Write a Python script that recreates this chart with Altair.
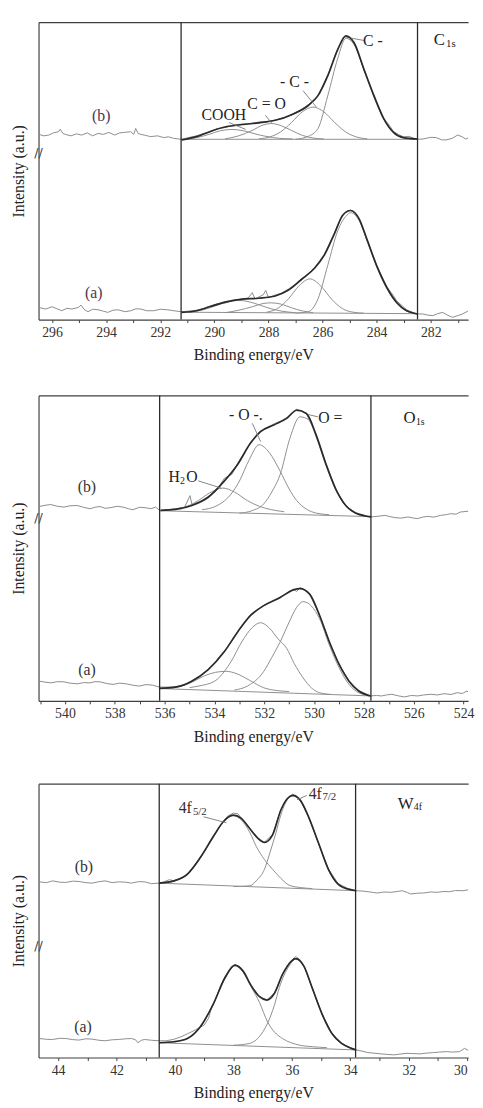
import altair as alt
import pandas as pd

FONT = "Liberation Serif"
PLOT_W = 436

# ---------------- C1s panel ----------------
C1S_XDOM = [280.62, 296.5]
C1S_YMAX = 302
C1S_REGION = [291.23, 282.49]
C1S_BREAK = [169]

C1S_B_RAW_E = [296.49, 296.3, 296.12, 295.95, 295.76, 295.7, 295.6, 295.51, 295.3, 295.1, 294.91, 294.7, 294.5, 294.3, 294.1, 293.9, 293.69, 293.5, 293.33, 293.09, 292.98, 292.91, 292.82, 292.72, 292.55, 292.36, 292.1, 291.87, 291.7, 291.51, 291.23,
               291.0, 290.66, 290.4, 290.18, 289.9, 289.57, 289.3, 288.96, 288.6, 288.36, 288.0, 287.75, 287.4, 287.14, 286.8, 286.53, 286.17, 285.81, 285.44, 285.2, 285.0, 284.83, 284.47, 284.1, 283.74, 283.5, 283.38, 283.2, 283.01, 282.8, 282.6, 282.49,
               282.29, 282.0, 281.8, 281.6, 281.44, 281.2, 281.01, 280.85, 280.71, 280.5]
C1S_B_RAW_I = [188, 186.5, 187.3, 189.5, 190.7, 193.3, 189, 188, 186.5, 188.5, 187.3, 189.5, 186.5, 189, 188, 190, 187.3, 189.5, 190, 190.7, 188, 194, 189, 188, 187, 185.7, 186.5, 184.7, 185.5, 184, 183,
               184.5, 186.5, 189, 190, 194, 195, 197.5, 198.5, 199, 200.5, 201, 202.5, 205, 208.5, 213, 218, 227, 248, 275, 287, 286, 281, 254.5, 226, 204.5, 196, 191, 188, 185.5, 186, 183.5, 183,
               183.3, 185, 184.7, 182.5, 182.3, 184, 187.3, 185.7, 183.3, 185.7]

C1S_B_ENV_E = [291.21, 290.66, 290.18, 289.57, 288.96, 288.36, 287.75, 287.14, 286.53, 286.17, 285.81, 285.44, 285.14, 284.83, 284.47, 284.1, 283.74, 283.38, 283.01, 282.49]
C1S_B_ENV_I = [182.3, 185.7, 190.7, 195.7, 198, 199.7, 202.3, 208, 217.3, 227.3, 247.3, 274, 288, 280.7, 254, 227.3, 204, 190, 184.7, 183.3]

C1S_B_C1_E = [287.0, 286.53, 286.17, 285.81, 285.44, 285.14, 284.83, 284.47, 284.1, 283.74, 283.38, 283.01, 282.5]
C1S_B_C1_I = [183, 186, 194, 227, 265, 285.5, 279, 253, 226, 203.5, 190, 184.5, 183]
C1S_B_C2_E = [288.35, 287.95, 287.55, 287.15, 286.75, 286.35, 285.95, 285.55, 285.15, 284.75, 284.35]
C1S_B_C2_I = [183.5, 185.4, 190.5, 200, 210.8, 215.7, 210.8, 200, 190.5, 185.4, 183.5]
C1S_B_C3_E = [289.6, 289.1, 288.6, 288.2, 287.9, 287.55, 287.15, 286.75, 286.35, 285.95]
C1S_B_C3_I = [183.5, 186.5, 192, 197.5, 199, 197, 192, 187, 184.3, 183.3]
C1S_B_C4_E = [291.0, 290.6, 290.2, 289.8, 289.35, 288.9, 288.5, 288.1, 287.6, 287.1]
C1S_B_C4_I = [183.3, 185, 188, 191.5, 193, 191.5, 188.5, 186, 184, 183.3]
C1S_B_BASE_E = [291.23, 282.49]
C1S_B_BASE_I = [183, 183]

C1S_A_RAW_E = [296.49, 296.24, 296.0, 295.82, 295.64, 295.45, 295.27, 295.03, 294.93, 294.8, 294.67, 294.5, 294.3, 294.1, 293.94, 293.75, 293.57, 293.3, 293.09, 292.9, 292.72, 292.5, 292.24, 292.0, 291.75, 291.5, 291.23,
               291.0, 290.66, 290.4, 290.18, 289.9, 289.57, 289.3, 288.96, 288.75, 288.6, 288.5, 288.36, 288.2, 288.1, 288.0, 287.75, 287.5, 287.26, 287.0, 286.78, 286.5, 286.29, 285.93, 285.56, 285.26, 285.1, 284.96, 284.8, 284.65, 284.35, 283.99, 283.62, 283.4, 283.26, 283.1, 282.89, 282.65, 282.49,
               282.29, 282.1, 281.92, 281.75, 281.56, 281.38, 281.2, 281.0, 280.83, 280.6]
C1S_A_RAW_I = [12.3, 10.7, 13, 11, 9, 11.5, 10.7, 12.3, 14.7, 10, 8, 10.5, 10, 8.5, 7.3, 9.5, 10, 8, 9, 11, 10.7, 9, 9, 10.5, 10, 9, 8,
               8.5, 9.5, 11, 13.5, 16, 17, 19.5, 21, 22, 27.3, 21, 23, 25, 29.7, 22, 25, 27, 31, 36, 41.5, 47, 53, 66.5, 88, 106.5, 110, 111, 108, 102, 81, 54.5, 33, 25, 19, 15, 10, 7, 5.7,
               5.7, 4.5, 4, 6, 7.3, 4.5, 2.3, 4, 5.7, 9]

C1S_A_ENV_E = [291.21, 290.66, 290.18, 289.57, 288.96, 288.36, 287.75, 287.26, 286.78, 286.29, 285.93, 285.56, 285.26, 284.96, 284.65, 284.35, 283.99, 283.62, 283.26, 282.89, 282.65, 282.49]
C1S_A_ENV_I = [7.3, 9, 13, 18, 20.7, 21.7, 24, 30, 40.7, 52.3, 65.7, 87.3, 105.7, 110.7, 102.3, 80.7, 54, 32.3, 17.3, 9, 6.7, 5.7]

C1S_A_C1_E = [287.0, 286.53, 286.17, 285.81, 285.44, 285.1, 284.96, 284.65, 284.35, 283.99, 283.62, 283.26, 282.89, 282.5]
C1S_A_C1_I = [6.5, 8, 21, 55, 90, 106, 108.5, 100.5, 79.5, 53, 31.5, 16.5, 8.5, 6]
C1S_A_C2_E = [288.07, 287.67, 287.27, 286.87, 286.47, 286.07, 285.67, 285.27, 284.87, 284.47]
C1S_A_C2_I = [7.5, 11.2, 20.8, 34.3, 41.3, 34.3, 20.8, 11.2, 7.5, 6.5]
C1S_A_C3_E = [289.6, 289.1, 288.6, 288.2, 287.9, 287.55, 287.15, 286.75, 286.35]
C1S_A_C3_I = [7, 9.5, 13, 16.3, 17, 15.8, 12, 8.8, 7]
C1S_A_C4_E = [290.9, 290.4, 289.9, 289.5, 289.1, 288.7, 288.3, 287.9, 287.5, 287.0]
C1S_A_C4_I = [7.5, 10, 14.5, 18, 19.5, 18, 14.5, 11, 8.5, 7]
C1S_A_BASE_E = [291.23, 282.49]
C1S_A_BASE_I = [7.5, 6]

C1S_TEXT = ["(b)", "(a)", "COOH", "C = O", "- C -", "C -", "C", "1s"]
C1S_TEXT_E = [294.18, 294.46, 289.65, 288.07, 287.04, 284.14, 281.68, 281.26]
C1S_TEXT_I = [206.7, 27.3, 207.3, 219, 241.3, 282.3, 283.3, 279.5]
C1S_TEXT_SIZE = [16, 16, 16, 16, 16, 16, 17, 11]
C1S_TEXT_COLOR = ["#4d3550", "#4d3550", "#222", "#222", "#222", "#222", "#222", "#222"]
C1S_LEAD_E = [289.46, 288.11, 286.72, 284.47]
C1S_LEAD_I = [200, 207.3, 232.3, 283.3]
C1S_LEAD_E2 = [288.84, 287.87, 286.23, 284.95]
C1S_LEAD_I2 = [193, 199, 215.7, 285.7]

# ---------------- O1s panel ----------------
O1S_XDOM = [523.82, 541.06]
O1S_YMAX = 310
O1S_REGION = [536.2, 527.72]
O1S_BREAK = [186]

O1S_B_RAW_E = [541.03, 540.8, 540.57, 540.3, 540.04, 539.8, 539.51, 539.25, 538.99, 538.8, 538.59, 538.4, 538.2, 537.9, 537.67, 537.45, 537.28, 537.0, 536.75, 536.55, 536.36, 536.2,
               535.9, 535.57, 535.2, 534.98, 534.9, 534.6, 534.25, 533.9, 533.6, 533.45, 533.3, 533.07, 532.8, 532.55, 532.3, 532.15, 531.9, 531.62, 531.35, 531.1, 530.9, 530.7, 530.5, 530.31, 529.92, 529.52, 529.13, 528.73, 528.34, 527.95, 527.71,
               527.4, 527.15, 526.95, 526.76, 526.5, 526.23, 526.0, 525.84, 525.65, 525.45, 525.2, 524.92, 524.7, 524.53, 524.3, 524.13, 523.8, 523.49]
O1S_B_RAW_I = [197.3, 198.5, 199.3, 197.5, 196.7, 198, 198.3, 196.5, 195, 196.5, 197.3, 195.5, 196, 197.5, 196.7, 195, 194, 196.5, 196, 195, 196.7, 193.3,
               194, 195, 196.5, 208.3, 199, 202, 207.5, 214, 226, 228, 230, 241, 252, 262.5, 270, 274, 277, 281, 284, 287.5, 292, 296, 294.5, 291.5, 270, 240.5, 214.5, 198, 191, 188, 186.7,
               187.5, 188.3, 187, 186, 185.5, 186.7, 185.5, 185, 186.5, 187.3, 186.5, 188.3, 189, 190, 189.5, 191.7, 192.5, 193.3]

O1S_B_ENV_E = [536.16, 535.57, 534.91, 534.25, 533.6, 533.07, 532.55, 532.15, 531.62, 531.1, 530.7, 530.31, 529.92, 529.52, 529.13, 528.73, 528.34, 527.95, 527.71]
O1S_B_ENV_I = [193.3, 194.3, 198.3, 206.7, 223.3, 240, 261.7, 273.3, 280, 286.7, 295, 291.7, 270, 240, 215, 198.3, 190.7, 187.7, 186.7]

O1S_B_C1_E = [533.0, 532.5, 532.02, 531.7, 531.36, 530.97, 530.57, 530.2, 529.92, 529.52, 529.13, 528.73, 528.34, 527.7]
O1S_B_C1_I = [190.5, 193, 200, 212, 230, 266.7, 288.3, 285, 268, 239, 214, 198, 190.5, 187]
O1S_B_C2_E = [534.5, 534.0, 533.6, 533.33, 533.0, 532.6, 532.21, 531.8, 531.36, 531.0, 530.7, 530.3, 529.9, 529.4]
O1S_B_C2_I = [194, 197, 203, 210, 223, 245, 260, 252, 233, 215, 203.3, 194.5, 190.5, 189]
O1S_B_C3_E = [536.2, 535.6, 535.0, 534.65, 534.2, 533.66, 533.2, 532.68, 532.2, 531.7, 531.2]
O1S_B_C3_I = [193, 194.5, 198.5, 203.3, 211, 216, 212, 203.3, 197.5, 194, 192]
O1S_B_BASE_E = [536.2, 527.7]
O1S_B_BASE_I = [193, 187]

O1S_A_RAW_E = [541.03, 540.8, 540.57, 540.3, 540.04, 539.8, 539.51, 539.25, 538.99, 538.8, 538.59, 538.3, 538.07, 537.8, 537.54, 537.3, 537.02, 536.75, 536.49, 536.2,
               535.9, 535.57, 535.2, 534.91, 534.6, 534.25, 534.0, 533.8, 533.6, 533.35, 533.07, 532.8, 532.55, 532.3, 532.02, 531.7, 531.36, 531.1, 530.83, 530.7, 530.57, 530.4, 530.18, 529.78, 529.39, 528.99, 528.6, 528.21, 527.74,
               527.5, 527.29, 527.1, 526.89, 526.6, 526.37, 526.1, 525.84, 525.6, 525.31, 525.05, 524.79, 524.5, 524.26, 524.05, 523.87, 523.6]
O1S_A_RAW_I = [20, 19, 18.3, 19.5, 19.3, 18, 17.3, 18.5, 18.3, 19.5, 19.3, 17.5, 16.7, 18, 17.3, 16, 15, 16.5, 16, 14,
               14, 14.5, 16, 20.5, 25, 32, 38, 45, 50.5, 59, 70, 79, 87.5, 92, 97, 101, 105.5, 109, 113.5, 111, 115, 113, 108.5, 87, 60, 36.5, 20.5, 10.5, 5,
               5.5, 5, 6, 6.7, 5, 4, 5.5, 5, 6, 6.7, 6, 7.3, 6.5, 8.3, 7.5, 10, 5]

O1S_A_ENV_E = [536.23, 535.57, 534.91, 534.25, 533.6, 533.07, 532.55, 532.02, 531.36, 530.83, 530.57, 530.18, 529.78, 529.39, 528.99, 528.6, 528.21, 527.74]
O1S_A_ENV_I = [12.7, 14, 20, 31.7, 50, 70, 86.7, 96.7, 105, 112.7, 114, 108.3, 86.7, 60, 36.7, 20, 10, 5]

O1S_A_C1_E = [533.2, 532.68, 532.02, 531.7, 531.36, 531.0, 530.7, 530.44, 530.1, 529.78, 529.39, 528.99, 528.6, 528.21, 527.7]
O1S_A_C1_I = [11, 15, 30, 44, 60, 80, 95, 100.7, 96, 83.3, 56.7, 33.3, 16.7, 8.3, 5]
O1S_A_C2_E = [535.0, 534.65, 533.99, 533.6, 533.33, 532.9, 532.5, 532.15, 531.8, 531.45, 531.1, 530.8, 530.44, 530.1, 529.78, 529.3]
O1S_A_C2_I = [13.5, 15, 20, 30, 40, 60, 74, 79.3, 74, 63, 53.3, 38, 23.3, 13, 8.3, 6.5]
O1S_A_C3_E = [536.2, 535.7, 535.31, 534.9, 534.4, 533.95, 533.53, 533.1, 532.6, 532.02, 531.5, 531.0]
O1S_A_C3_I = [12.5, 13.5, 15, 19, 25.5, 29, 30, 27.5, 21, 13.3, 10.5, 9.5]
O1S_A_BASE_E = [536.2, 527.7]
O1S_A_BASE_I = [12.5, 5]

O1S_TEXT = ["(b)", "(a)", "H", "2", "O", "- O -.", "O =", "O", "1s"]
O1S_TEXT_E = [539.12, 539.12, 535.62, 535.28, 534.9, 532.74, 529.35, 526.17, 525.74]
O1S_TEXT_I = [216.7, 31, 226.7, 223, 226.7, 290, 286.7, 286.7, 283]
O1S_TEXT_SIZE = [16, 16, 16, 10, 16, 16, 16, 17, 10]
O1S_TEXT_COLOR = ["#333", "#333", "#222", "#222", "#222", "#222", "#222", "#222", "#222"]
O1S_LEAD_E = [532.48, 529.85, 534.65]
O1S_LEAD_I = [281.7, 288.3, 223.3]
O1S_LEAD_E2 = [532.15, 530.25, 533.73]
O1S_LEAD_I2 = [263.3, 290.7, 216]

# ---------------- W4f panel ----------------
W4F_XDOM = [29.97, 44.67]
W4F_YMAX = 278
W4F_REGION = [40.54, 33.82]
W4F_BREAK = [112.7]

W4F_B_RAW_E = [44.64, 44.4, 44.19, 43.95, 43.74, 43.5, 43.29, 43.05, 42.84, 42.6, 42.39, 42.15, 41.94, 41.7, 41.49, 41.25, 41.04, 40.8, 40.54,
               40.4, 40.2, 40.04, 39.8, 39.58, 39.35, 39.14, 38.9, 38.69, 38.5, 38.35, 38.2, 38.01, 37.85, 37.73, 37.45, 37.17, 36.94, 36.66, 36.38, 36.16, 35.97, 35.71, 35.43, 35.09, 34.75, 34.42, 34.08, 33.8,
               33.6, 33.4, 33.2, 33.07, 32.85, 32.62, 32.4, 32.22, 32.05, 31.94, 31.7, 31.49, 31.25, 31.04, 30.8, 30.6, 30.4, 30.15, 29.9]
W4F_B_RAW_I = [178.3, 177.5, 179.3, 178, 177.7, 179, 178.7, 177.5, 177, 178.5, 179.3, 177.5, 178.3, 178, 177, 178.5, 178.3, 176.5, 177,
               178, 180.5, 179.5, 182, 186.5, 194, 203, 214, 224.5, 233, 239.5, 245, 248, 247.5, 243, 233, 223, 218.5, 226.5, 251.5, 263, 267.5, 261.5, 244.5, 218, 191.5, 176.5, 171.5, 169.3,
               169, 168.3, 167.5, 167, 168, 167.7, 168.5, 169.3, 167.5, 166, 166.8, 167, 168, 167.7, 168.5, 168.3, 169.5, 169.3, 170.5]

W4F_B_ENV_E = [40.54, 40.04, 39.58, 39.14, 38.69, 38.35, 38.01, 37.73, 37.45, 37.17, 36.94, 36.66, 36.38, 36.16, 35.97, 35.71, 35.43, 35.09, 34.75, 34.42, 34.08, 33.8]
W4F_B_ENV_I = [177, 179.3, 186, 202.7, 224.3, 239.3, 246, 242.7, 232.7, 222.7, 218.3, 226, 251, 262.7, 266, 261, 244.3, 217.7, 191, 176, 171, 169.3]

W4F_B_C1_E = [40.54, 40.04, 39.58, 39.14, 38.69, 38.35, 38.01, 37.73, 37.45, 37.22, 36.94, 36.66, 36.38, 36.1, 35.7, 35.3]
W4F_B_C1_I = [177, 179, 185.5, 202, 223.5, 238.5, 245.5, 241, 229, 214.3, 201, 191, 182, 175, 172.5, 171.5]
W4F_B_C2_E = [38.0, 37.45, 37.2, 36.94, 36.75, 36.55, 36.38, 36.16, 35.97, 35.71, 35.43, 35.09, 34.75, 34.42, 34.08, 33.8]
W4F_B_C2_I = [173.5, 174.3, 180, 191, 208, 227.7, 246, 261.5, 265.5, 260.5, 244, 217.5, 190.5, 175.5, 170.5, 169.3]
W4F_B_BASE_E = [40.54, 33.8]
W4F_B_BASE_I = [177, 169.3]

W4F_A_RAW_E = [44.64, 44.4, 44.19, 43.95, 43.74, 43.5, 43.29, 43.05, 42.84, 42.6, 42.39, 42.15, 41.94, 41.7, 41.49, 41.35, 41.27, 41.15, 41.04, 40.8, 40.54,
               40.3, 40.04, 39.8, 39.58, 39.3, 39.0, 38.85, 38.75, 38.6, 38.45, 38.29, 38.1, 37.95, 37.8, 37.67, 37.39, 37.11, 36.86, 36.6, 36.32, 36.04, 35.87, 35.75, 35.59, 35.31, 34.97, 34.63, 34.3, 33.96, 33.8,
               33.6, 33.4, 33.2, 32.96, 32.75, 32.51, 32.3, 32.06, 31.85, 31.61, 31.4, 31.16, 30.95, 30.71, 30.5, 30.26, 30.09, 29.95]
W4F_A_RAW_I = [19.3, 18.5, 18.3, 19.5, 19.3, 18.2, 17.7, 19, 18.7, 17.5, 17, 18, 18.3, 19, 19.3, 18, 15, 17.5, 18.3, 17.5, 17,
               17, 18.5, 21, 24, 28, 33, 40, 51, 60, 72, 82, 90, 94.5, 92, 88, 73, 62, 58.5, 65.5, 85, 97.5, 102.5, 100, 93, 71.5, 44.5, 24.5, 14.5, 9.5, 7.7,
               6.5, 5, 4.5, 3.7, 3.2, 2.7, 3.5, 4.3, 4, 3.7, 4.5, 5, 5.5, 6, 5.5, 6, 9.3, 7]

W4F_A_ENV_E = [40.54, 40.04, 39.58, 39.14, 38.69, 38.29, 37.95, 37.67, 37.39, 37.11, 36.86, 36.6, 36.32, 36.04, 35.87, 35.59, 35.31, 34.97, 34.63, 34.3, 33.96, 33.8]
W4F_A_ENV_I = [15, 16, 19.3, 31, 54.3, 81, 93.7, 87.7, 72.7, 61.7, 58.3, 65, 84.3, 97, 100.3, 92.7, 71, 44.3, 24.3, 14.3, 9.3, 7.7]

W4F_A_C1_E = [40.54, 40.04, 39.58, 39.14, 38.69, 38.29, 37.95, 37.67, 37.39, 37.11, 36.83, 36.6, 36.32, 35.76, 35.3, 34.8]
W4F_A_C1_I = [15, 16, 19, 30.5, 54, 80.5, 93, 87, 71.5, 56, 36, 26, 19.3, 12.7, 11, 10]
W4F_A_C2_E = [38.0, 37.45, 37.15, 36.83, 36.6, 36.43, 36.1, 35.87, 35.59, 35.31, 34.97, 34.63, 34.3, 33.96, 33.8]
W4F_A_C2_I = [12.5, 14.3, 20, 35, 53, 71, 92.7, 100, 92.5, 70.5, 44, 24, 14, 9.2, 7.7]
W4F_A_BASE_E = [40.54, 33.8]
W4F_A_BASE_I = [15, 7.7]

W4F_TEXT = ["(b)", "(a)", "4f", "5/2", "4f", "7/2", "W", "4f"]
W4F_TEXT_E = [43.12, 43.15, 39.65, 39.15, 35.2, 34.72, 32.11, 31.69]
W4F_TEXT_I = [193.3, 31, 252.7, 248.7, 267.7, 264.5, 257.7, 254.5]
W4F_TEXT_SIZE = [16, 16, 16, 11, 16, 11, 17, 10]
W4F_TEXT_COLOR = ["#333", "#333", "#3a2a2a", "#3a2a2a", "#3a2a2a", "#3a2a2a", "#222", "#222"]
W4F_LEAD_E = [39.02, 35.49]
W4F_LEAD_I = [244.3, 266]
W4F_LEAD_E2 = [38.24, 35.82]
W4F_LEAD_I2 = [238.3, 261.7]


def lines_df(items):
    rows = []
    for name, kind, es, vs in items:
        for k, (e, v) in enumerate(zip(es, vs)):
            rows.append({"E": e, "I": v, "curve": name, "kind": kind, "k": k})
    return pd.DataFrame(rows)


def panel(lines, region, texts, leads, brk, xdom, ymax, height):
    ticks = [v / 2 for v in range(int(xdom[0] * 2) + 1, int(xdom[1] * 2) + 1)]
    xs = alt.Scale(domain=xdom, reverse=True, nice=False, zero=False)
    ys = alt.Scale(domain=[0, ymax], nice=False, zero=False)
    x_axis = alt.Axis(title="Binding energy/eV", values=ticks, format="d",
                      labelExpr="datum.value % 2 === 0 ? datum.label : ''",
                      labelOverlap=False, tickSize=3, labelPadding=3, titlePadding=8)
    top_axis = alt.Axis(orient="top", labels=False, ticks=False, title=None, domain=True)
    y_axis = alt.Axis(title="Intensity (a.u.)", labels=False, ticks=False, titlePadding=12)
    XB = alt.X("E:Q", scale=xs, axis=x_axis)
    XT = alt.X("E:Q", scale=xs, axis=top_axis)
    XN = alt.X("E:Q", scale=xs, axis=None)
    Y = alt.Y("I:Q", scale=ys, axis=y_axis)

    base = alt.Chart(lines)
    raw = base.transform_filter(alt.datum.kind == "raw").mark_line(
        color="#8c8c8c", strokeWidth=1, clip=True).encode(x=XB, y=Y, detail="curve:N")
    comp = base.transform_filter(alt.datum.kind == "comp").mark_line(
        color="#8e8e8e", strokeWidth=1, interpolate="monotone", clip=True).encode(x=XN, y=Y, detail="curve:N")
    env = base.transform_filter(alt.datum.kind == "env").mark_line(
        color="#2a2a2a", strokeWidth=1.7, interpolate="monotone", clip=True).encode(x=XN, y=Y, detail="curve:N")

    vr = alt.Chart(pd.DataFrame({"E": region})).mark_rule(
        color="#2a2a2a", strokeWidth=1.3).encode(x=XT)
    ld = alt.Chart(pd.DataFrame(leads)).mark_rule(color="#777", strokeWidth=0.9).encode(
        x=XN, y=Y, x2="E2:Q", y2="I2:Q")
    tx = alt.Chart(pd.DataFrame(texts)).mark_text(
        font=FONT, align="center", baseline="middle").encode(
        x=XN, y=Y, text="t:N", size=alt.Size("s:Q", scale=None),
        color=alt.Color("c:N", scale=None))
    br = alt.Chart(pd.DataFrame({"I": brk})).mark_text(
        text="//", font="DejaVu Sans", fontSize=13, color="#444").encode(
        x=alt.value(0), y=Y)
    return alt.layer(raw, comp, env, vr, ld, tx, br).resolve_axis(x="independent").properties(
        width=PLOT_W, height=height)


c1s_lines = lines_df([
    ("b_raw", "raw", C1S_B_RAW_E, C1S_B_RAW_I),
    ("a_raw", "raw", C1S_A_RAW_E, C1S_A_RAW_I),
    ("b_c1", "comp", C1S_B_C1_E, C1S_B_C1_I), ("b_c2", "comp", C1S_B_C2_E, C1S_B_C2_I),
    ("b_c3", "comp", C1S_B_C3_E, C1S_B_C3_I), ("b_c4", "comp", C1S_B_C4_E, C1S_B_C4_I),
    ("b_base", "comp", C1S_B_BASE_E, C1S_B_BASE_I),
    ("a_c1", "comp", C1S_A_C1_E, C1S_A_C1_I), ("a_c2", "comp", C1S_A_C2_E, C1S_A_C2_I),
    ("a_c3", "comp", C1S_A_C3_E, C1S_A_C3_I), ("a_c4", "comp", C1S_A_C4_E, C1S_A_C4_I),
    ("a_base", "comp", C1S_A_BASE_E, C1S_A_BASE_I),
    ("b_env", "env", C1S_B_ENV_E, C1S_B_ENV_I),
    ("a_env", "env", C1S_A_ENV_E, C1S_A_ENV_I),
])
o1s_lines = lines_df([
    ("b_raw", "raw", O1S_B_RAW_E, O1S_B_RAW_I),
    ("a_raw", "raw", O1S_A_RAW_E, O1S_A_RAW_I),
    ("b_c1", "comp", O1S_B_C1_E, O1S_B_C1_I), ("b_c2", "comp", O1S_B_C2_E, O1S_B_C2_I),
    ("b_c3", "comp", O1S_B_C3_E, O1S_B_C3_I), ("b_base", "comp", O1S_B_BASE_E, O1S_B_BASE_I),
    ("a_c1", "comp", O1S_A_C1_E, O1S_A_C1_I), ("a_c2", "comp", O1S_A_C2_E, O1S_A_C2_I),
    ("a_c3", "comp", O1S_A_C3_E, O1S_A_C3_I), ("a_base", "comp", O1S_A_BASE_E, O1S_A_BASE_I),
    ("b_env", "env", O1S_B_ENV_E, O1S_B_ENV_I),
    ("a_env", "env", O1S_A_ENV_E, O1S_A_ENV_I),
])
w4f_lines = lines_df([
    ("b_raw", "raw", W4F_B_RAW_E, W4F_B_RAW_I),
    ("a_raw", "raw", W4F_A_RAW_E, W4F_A_RAW_I),
    ("b_c1", "comp", W4F_B_C1_E, W4F_B_C1_I), ("b_c2", "comp", W4F_B_C2_E, W4F_B_C2_I),
    ("b_base", "comp", W4F_B_BASE_E, W4F_B_BASE_I),
    ("a_c1", "comp", W4F_A_C1_E, W4F_A_C1_I), ("a_c2", "comp", W4F_A_C2_E, W4F_A_C2_I),
    ("a_base", "comp", W4F_A_BASE_E, W4F_A_BASE_I),
    ("b_env", "env", W4F_B_ENV_E, W4F_B_ENV_I),
    ("a_env", "env", W4F_A_ENV_E, W4F_A_ENV_I),
])

p1 = panel(c1s_lines, C1S_REGION,
           {"t": C1S_TEXT, "E": C1S_TEXT_E, "I": C1S_TEXT_I, "s": C1S_TEXT_SIZE, "c": C1S_TEXT_COLOR},
           {"E": C1S_LEAD_E, "I": C1S_LEAD_I, "E2": C1S_LEAD_E2, "I2": C1S_LEAD_I2},
           C1S_BREAK, C1S_XDOM, C1S_YMAX, C1S_YMAX)
p2 = panel(o1s_lines, O1S_REGION,
           {"t": O1S_TEXT, "E": O1S_TEXT_E, "I": O1S_TEXT_I, "s": O1S_TEXT_SIZE, "c": O1S_TEXT_COLOR},
           {"E": O1S_LEAD_E, "I": O1S_LEAD_I, "E2": O1S_LEAD_E2, "I2": O1S_LEAD_I2},
           O1S_BREAK, O1S_XDOM, O1S_YMAX, O1S_YMAX)
p3 = panel(w4f_lines, W4F_REGION,
           {"t": W4F_TEXT, "E": W4F_TEXT_E, "I": W4F_TEXT_I, "s": W4F_TEXT_SIZE, "c": W4F_TEXT_COLOR},
           {"E": W4F_LEAD_E, "I": W4F_LEAD_I, "E2": W4F_LEAD_E2, "I2": W4F_LEAD_I2},
           W4F_BREAK, W4F_XDOM, W4F_YMAX, W4F_YMAX)

chart = alt.vconcat(alt.vconcat(p1, p2, spacing=30), p3, spacing=37).properties(
    padding={"left": 2, "top": 4, "right": 0, "bottom": 0}
).configure_view(stroke="transparent").configure_axis(
    labelFont=FONT, titleFont=FONT, labelFontSize=14, titleFontSize=16,
    titleFontWeight="normal", labelColor="#333", titleColor="#222",
    domainColor="#404040", domainWidth=1.2, tickColor="#404040", grid=False)

chart.save("out.html", embed_options={"renderer": "svg", "actions": False})
